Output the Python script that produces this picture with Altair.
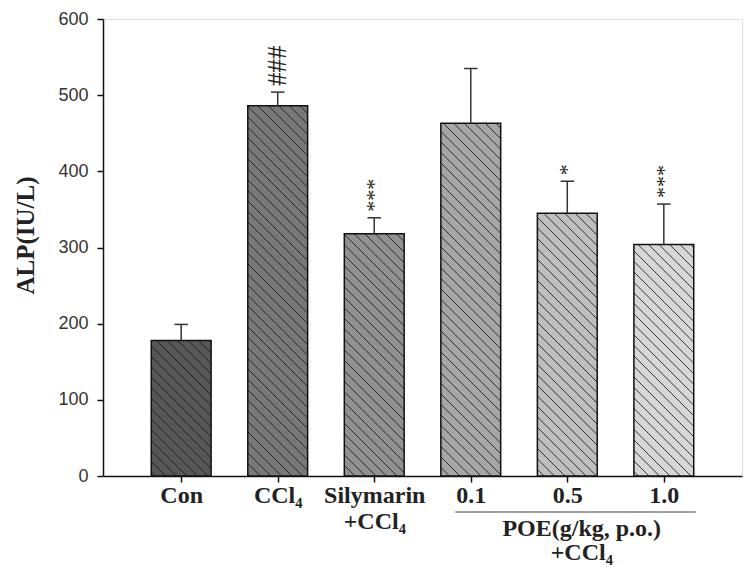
import altair as alt
import pandas as pd

# ---- data ----
groups = ["Con", "CCl4", "Silymarin+CCl4", "0.1", "0.5", "1.0"]
means = [178, 486, 318, 463, 345, 304]
errs = [21, 18, 21, 72, 42, 53]
marks = ["", "###", "***", "", "*", "***"]
colors = ["#575757", "#787878", "#919191", "#a6a6a6", "#bebebe", "#d7d7d7"]
x_labels = ["Con", "CCl₄", ["Silymarin", "+CCl₄"], "0.1", "0.5", "1.0"]
group_lines = ["POE(g/kg, p.o.)", "+CCl₄"]

# ---- layout ----
W, H = 639, 457
XMIN, XMAX = -0.81, 5.81
YMAX = 600
HALF = 0.31          # half bar width (in category units)
CAP = 0.07           # half cap width
pxu = W / (XMAX - XMIN)
pyu = H / YMAX

idx = list(range(len(groups)))
df = pd.DataFrame({
    "i": idx, "group": groups, "mean": means, "err": errs, "mark": marks, "color": colors,
})
df["x0"] = df["i"] - HALF
df["x1"] = df["i"] + HALF
df["top"] = df["mean"] + df["err"]
df["c0"] = df["i"] - CAP
df["c1"] = df["i"] + CAP
df["fs"] = [27 if "#" in m else 22 for m in marks]

# ---- hatch segments (decoration, "\\" lines) ----
rows = []
SP = 10.5
for i, m in zip(idx, means):
    L = (i - HALF - XMIN) * pxu
    R = (i + HALF - XMIN) * pxu
    T = H - m * pyu
    B = H
    c = -2000.0
    while c < B - L + SP:
        a = max(L, T - c)
        b = min(R, B - c)
        if b - a > 0.5:
            rows.append({
                "hx0": a / pxu + XMIN, "hx1": b / pxu + XMIN,
                "hy0": (H - (a + c)) / pyu, "hy1": (H - (b + c)) / pyu,
            })
        c += SP
hatch = pd.DataFrame(rows)

xscale = alt.Scale(domain=[XMIN, XMAX], nice=False, zero=False)
yscale = alt.Scale(domain=[0, YMAX], nice=False)

label_expr = "[" + ",".join(
    ("[" + ",".join(f"'{s}'" for s in l) + "]") if isinstance(l, list) else f"'{l}'"
    for l in x_labels
) + "][datum.value]"

xaxis = alt.Axis(
    values=idx, labelExpr=label_expr, title=None, grid=False,
    labelFont="Liberation Serif", labelFontWeight="bold", labelFontSize=24,
    labelColor="#222222", labelPadding=1, labelLineHeight=26,
    tickSize=6, tickColor="#111111", tickWidth=1.5,
    domainColor="#111111", domainWidth=1.5, labelFlush=False,
)
yaxis = alt.Axis(
    values=[0, 100, 200, 300, 400, 500, 600], title="ALP(IU/L)", grid=False,
    labelFont="Liberation Sans", labelFontSize=18, labelColor="#333333", labelPadding=9,
    tickSize=6, tickColor="#111111", tickWidth=1.5,
    domainColor="#111111", domainWidth=1.5,
    titleFont="Liberation Serif", titleFontWeight="bold", titleFontSize=25,
    titleColor="#222222", titleX=-78, titleY=216, titleAngle=270,
    titleAlign="center", titleBaseline="middle",
)

base = alt.Chart(df)

fill = base.mark_rect().encode(
    x=alt.X("x0:Q", scale=xscale, axis=xaxis),
    x2="x1:Q",
    y=alt.Y("mean:Q", scale=yscale, axis=yaxis),
    y2=alt.datum(0),
    fill=alt.Color("color:N", scale=None),
)

hatch_layer = alt.Chart(hatch).mark_rule(color="#1a1a1a", strokeWidth=1, opacity=0.85).encode(
    x=alt.X("hx0:Q", scale=xscale), x2="hx1:Q",
    y=alt.Y("hy0:Q", scale=yscale), y2="hy1:Q",
)

outline = base.mark_rect(fillOpacity=0, stroke="#111111", strokeWidth=1.5).encode(
    x=alt.X("x0:Q", scale=xscale), x2="x1:Q",
    y=alt.Y("mean:Q", scale=yscale), y2=alt.datum(0),
)

err_line = base.mark_rule(color="#333333", strokeWidth=1.5).encode(
    x=alt.X("i:Q", scale=xscale),
    y=alt.Y("mean:Q", scale=yscale), y2="top:Q",
)
err_cap = base.mark_rule(color="#333333", strokeWidth=1.5).encode(
    x=alt.X("c0:Q", scale=xscale), x2="c1:Q",
    y=alt.Y("top:Q", scale=yscale),
)

sig = base.mark_text(
    angle=270, align="left", baseline="middle", dx=6,
    font="Liberation Serif", color="#222222",
).encode(
    x=alt.X("i:Q", scale=xscale),
    y=alt.Y("top:Q", scale=yscale),
    text="mark:N",
    size=alt.Size("fs:Q", scale=None),
)

grp = pd.DataFrame({
    "x0": [2.84], "x1": [5.33], "yl": [493],
})
grp_line = alt.Chart(grp).mark_rule(color="#444444", strokeWidth=1.2).encode(
    x=alt.X("x0:Q", scale=xscale), x2="x1:Q",
    y=alt.Y("yl:Q", scale=None),
)
grp_text_df = pd.DataFrame({"t": group_lines, "x": [4.15, 4.15], "yt": [510, 534]})
grp_text = alt.Chart(grp_text_df).mark_text(
    font="Liberation Serif", fontWeight="bold", fontSize=24, color="#222222",
    baseline="middle", align="center",
).encode(
    x=alt.X("x:Q", scale=xscale),
    y=alt.Y("yt:Q", scale=None),
    text="t:N",
)

chart = alt.layer(
    fill, hatch_layer, outline, err_line, err_cap, sig, grp_line, grp_text
).properties(
    width=W, height=H,
    autosize=alt.AutoSizeParams(type="none"),
    padding={"left": 95, "top": 11, "right": 3, "bottom": 90},
).configure_view(stroke=None).configure(background="white")

chart.save("out.html", embed_options={"renderer": "svg", "actions": False})
